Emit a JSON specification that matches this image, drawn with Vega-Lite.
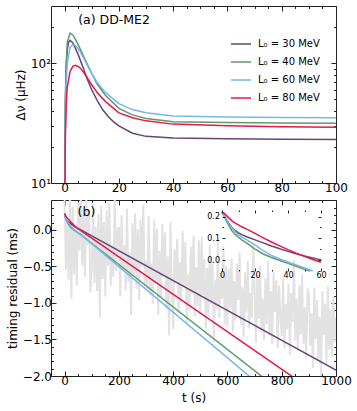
{
  "$schema": "https://vega.github.io/schema/vega-lite/v6.json",
  "padding": {"left": 5, "top": 5, "right": 5, "bottom": 5},
  "background": "white",
  "spacing": 17,
  "bounds": "flush",
  "config": {
    "view": {"stroke": "#222", "strokeWidth": 1},
    "font": "DejaVu Sans",
    "axis": {"labelFont": "DejaVu Sans", "labelFontSize": 12, "labelColor": "#000", "titleFont": "DejaVu Sans", "titleFontSize": 12, "titleFontWeight": "normal", "titleColor": "#000", "domain": false, "grid": false, "tickColor": "#222", "labelPadding": 4.5, "titlePadding": 3, "labelFlush": false, "labelOverlap": false, "labelBound": false, "zindex": 1},
    "legend": {"labelFont": "DejaVu Sans", "labelColor": "#000"}
  },
  "datasets": {
    "freq": [
      {"t":0,"dnu":3,"L":"L₀ = 30 MeV"},{"t":0.3,"dnu":50,"L":"L₀ = 30 MeV"},{"t":0.6,"dnu":95,"L":"L₀ = 30 MeV"},{"t":1,"dnu":130,"L":"L₀ = 30 MeV"},{"t":1.5,"dnu":150,"L":"L₀ = 30 MeV"},{"t":2,"dnu":155,"L":"L₀ = 30 MeV"},{"t":3,"dnu":148,"L":"L₀ = 30 MeV"},{"t":4,"dnu":133,"L":"L₀ = 30 MeV"},{"t":5,"dnu":118,"L":"L₀ = 30 MeV"},{"t":6,"dnu":103,"L":"L₀ = 30 MeV"},{"t":7,"dnu":90,"L":"L₀ = 30 MeV"},{"t":8,"dnu":77,"L":"L₀ = 30 MeV"},{"t":9,"dnu":68,"L":"L₀ = 30 MeV"},{"t":10,"dnu":60,"L":"L₀ = 30 MeV"},{"t":12,"dnu":49,"L":"L₀ = 30 MeV"},{"t":14,"dnu":41,"L":"L₀ = 30 MeV"},{"t":16,"dnu":36,"L":"L₀ = 30 MeV"},{"t":18,"dnu":32.5,"L":"L₀ = 30 MeV"},{"t":20,"dnu":30,"L":"L₀ = 30 MeV"},{"t":25,"dnu":26,"L":"L₀ = 30 MeV"},{"t":30,"dnu":24.5,"L":"L₀ = 30 MeV"},{"t":40,"dnu":23.7,"L":"L₀ = 30 MeV"},{"t":60,"dnu":23.4,"L":"L₀ = 30 MeV"},{"t":80,"dnu":23.2,"L":"L₀ = 30 MeV"},{"t":100,"dnu":23.1,"L":"L₀ = 30 MeV"},
      {"t":0,"dnu":3,"L":"L₀ = 40 MeV"},{"t":0.3,"dnu":45,"L":"L₀ = 40 MeV"},{"t":0.6,"dnu":100,"L":"L₀ = 40 MeV"},{"t":1,"dnu":150,"L":"L₀ = 40 MeV"},{"t":2,"dnu":178,"L":"L₀ = 40 MeV"},{"t":3,"dnu":172,"L":"L₀ = 40 MeV"},{"t":4,"dnu":158,"L":"L₀ = 40 MeV"},{"t":5,"dnu":143,"L":"L₀ = 40 MeV"},{"t":6,"dnu":128,"L":"L₀ = 40 MeV"},{"t":8,"dnu":102,"L":"L₀ = 40 MeV"},{"t":10,"dnu":82,"L":"L₀ = 40 MeV"},{"t":12,"dnu":67,"L":"L₀ = 40 MeV"},{"t":15,"dnu":54,"L":"L₀ = 40 MeV"},{"t":20,"dnu":42,"L":"L₀ = 40 MeV"},{"t":25,"dnu":37,"L":"L₀ = 40 MeV"},{"t":30,"dnu":34.5,"L":"L₀ = 40 MeV"},{"t":40,"dnu":32.5,"L":"L₀ = 40 MeV"},{"t":60,"dnu":32,"L":"L₀ = 40 MeV"},{"t":80,"dnu":31.7,"L":"L₀ = 40 MeV"},{"t":100,"dnu":31.5,"L":"L₀ = 40 MeV"},
      {"t":0,"dnu":3,"L":"L₀ = 60 MeV"},{"t":0.3,"dnu":30,"L":"L₀ = 60 MeV"},{"t":0.6,"dnu":65,"L":"L₀ = 60 MeV"},{"t":1,"dnu":100,"L":"L₀ = 60 MeV"},{"t":2,"dnu":135,"L":"L₀ = 60 MeV"},{"t":3,"dnu":143,"L":"L₀ = 60 MeV"},{"t":4,"dnu":140,"L":"L₀ = 60 MeV"},{"t":5,"dnu":132,"L":"L₀ = 60 MeV"},{"t":6,"dnu":122,"L":"L₀ = 60 MeV"},{"t":8,"dnu":100,"L":"L₀ = 60 MeV"},{"t":10,"dnu":82,"L":"L₀ = 60 MeV"},{"t":12,"dnu":69,"L":"L₀ = 60 MeV"},{"t":15,"dnu":57,"L":"L₀ = 60 MeV"},{"t":20,"dnu":46,"L":"L₀ = 60 MeV"},{"t":25,"dnu":41,"L":"L₀ = 60 MeV"},{"t":30,"dnu":38.5,"L":"L₀ = 60 MeV"},{"t":40,"dnu":36.3,"L":"L₀ = 60 MeV"},{"t":60,"dnu":35.5,"L":"L₀ = 60 MeV"},{"t":80,"dnu":35.2,"L":"L₀ = 60 MeV"},{"t":100,"dnu":35,"L":"L₀ = 60 MeV"},
      {"t":0,"dnu":3,"L":"L₀ = 80 MeV"},{"t":0.3,"dnu":25,"L":"L₀ = 80 MeV"},{"t":0.6,"dnu":45,"L":"L₀ = 80 MeV"},{"t":1,"dnu":63,"L":"L₀ = 80 MeV"},{"t":2,"dnu":85,"L":"L₀ = 80 MeV"},{"t":3,"dnu":94,"L":"L₀ = 80 MeV"},{"t":4,"dnu":96,"L":"L₀ = 80 MeV"},{"t":5,"dnu":94,"L":"L₀ = 80 MeV"},{"t":6,"dnu":90,"L":"L₀ = 80 MeV"},{"t":8,"dnu":78,"L":"L₀ = 80 MeV"},{"t":10,"dnu":66,"L":"L₀ = 80 MeV"},{"t":12,"dnu":57,"L":"L₀ = 80 MeV"},{"t":15,"dnu":48,"L":"L₀ = 80 MeV"},{"t":20,"dnu":38.5,"L":"L₀ = 80 MeV"},{"t":25,"dnu":35,"L":"L₀ = 80 MeV"},{"t":30,"dnu":33,"L":"L₀ = 80 MeV"},{"t":40,"dnu":31,"L":"L₀ = 80 MeV"},{"t":60,"dnu":30,"L":"L₀ = 80 MeV"},{"t":80,"dnu":29.5,"L":"L₀ = 80 MeV"},{"t":100,"dnu":29.2,"L":"L₀ = 80 MeV"}
    ],
    "resid": [
      {"t":0,"r":0.222,"L":"L₀ = 30 MeV"},{"t":2,"r":0.195,"L":"L₀ = 30 MeV"},{"t":4,"r":0.17,"L":"L₀ = 30 MeV"},{"t":6,"r":0.15,"L":"L₀ = 30 MeV"},{"t":8,"r":0.135,"L":"L₀ = 30 MeV"},{"t":10,"r":0.125,"L":"L₀ = 30 MeV"},{"t":12,"r":0.117,"L":"L₀ = 30 MeV"},{"t":15,"r":0.107,"L":"L₀ = 30 MeV"},{"t":20,"r":0.093,"L":"L₀ = 30 MeV"},{"t":25,"r":0.079,"L":"L₀ = 30 MeV"},{"t":30,"r":0.065,"L":"L₀ = 30 MeV"},{"t":35,"r":0.052,"L":"L₀ = 30 MeV"},{"t":40,"r":0.04,"L":"L₀ = 30 MeV"},{"t":45,"r":0.029,"L":"L₀ = 30 MeV"},{"t":50,"r":0.019,"L":"L₀ = 30 MeV"},{"t":55,"r":0.01,"L":"L₀ = 30 MeV"},{"t":60,"r":0.001,"L":"L₀ = 30 MeV"},{"t":1000,"r":-1.92,"L":"L₀ = 30 MeV"},
      {"t":0,"r":0.22,"L":"L₀ = 40 MeV"},{"t":2,"r":0.19,"L":"L₀ = 40 MeV"},{"t":4,"r":0.16,"L":"L₀ = 40 MeV"},{"t":6,"r":0.135,"L":"L₀ = 40 MeV"},{"t":8,"r":0.118,"L":"L₀ = 40 MeV"},{"t":10,"r":0.105,"L":"L₀ = 40 MeV"},{"t":12,"r":0.093,"L":"L₀ = 40 MeV"},{"t":15,"r":0.078,"L":"L₀ = 40 MeV"},{"t":20,"r":0.05,"L":"L₀ = 40 MeV"},{"t":25,"r":0.028,"L":"L₀ = 40 MeV"},{"t":30,"r":0.012,"L":"L₀ = 40 MeV"},{"t":35,"r":-0.002,"L":"L₀ = 40 MeV"},{"t":40,"r":-0.015,"L":"L₀ = 40 MeV"},{"t":45,"r":-0.028,"L":"L₀ = 40 MeV"},{"t":50,"r":-0.042,"L":"L₀ = 40 MeV"},{"t":53.3,"r":-0.05,"L":"L₀ = 40 MeV"},{"t":55,"r":-0.054,"L":"L₀ = 40 MeV"},{"t":60,"r":-0.066,"L":"L₀ = 40 MeV"},{"t":1000,"r":-2.8,"L":"L₀ = 40 MeV"},
      {"t":0,"r":0.22,"L":"L₀ = 60 MeV"},{"t":2,"r":0.195,"L":"L₀ = 60 MeV"},{"t":4,"r":0.17,"L":"L₀ = 60 MeV"},{"t":6,"r":0.148,"L":"L₀ = 60 MeV"},{"t":8,"r":0.13,"L":"L₀ = 60 MeV"},{"t":10,"r":0.117,"L":"L₀ = 60 MeV"},{"t":12,"r":0.106,"L":"L₀ = 60 MeV"},{"t":15,"r":0.093,"L":"L₀ = 60 MeV"},{"t":20,"r":0.07,"L":"L₀ = 60 MeV"},{"t":25,"r":0.043,"L":"L₀ = 60 MeV"},{"t":30,"r":0.021,"L":"L₀ = 60 MeV"},{"t":35,"r":0.005,"L":"L₀ = 60 MeV"},{"t":40,"r":-0.008,"L":"L₀ = 60 MeV"},{"t":45,"r":-0.022,"L":"L₀ = 60 MeV"},{"t":50,"r":-0.036,"L":"L₀ = 60 MeV"},{"t":55,"r":-0.05,"L":"L₀ = 60 MeV"},{"t":60,"r":-0.064,"L":"L₀ = 60 MeV"},{"t":1000,"r":-3.0,"L":"L₀ = 60 MeV"},
      {"t":0,"r":0.223,"L":"L₀ = 80 MeV"},{"t":2,"r":0.21,"L":"L₀ = 80 MeV"},{"t":4,"r":0.195,"L":"L₀ = 80 MeV"},{"t":6,"r":0.18,"L":"L₀ = 80 MeV"},{"t":8,"r":0.17,"L":"L₀ = 80 MeV"},{"t":10,"r":0.162,"L":"L₀ = 80 MeV"},{"t":12,"r":0.153,"L":"L₀ = 80 MeV"},{"t":15,"r":0.142,"L":"L₀ = 80 MeV"},{"t":20,"r":0.123,"L":"L₀ = 80 MeV"},{"t":25,"r":0.102,"L":"L₀ = 80 MeV"},{"t":30,"r":0.083,"L":"L₀ = 80 MeV"},{"t":35,"r":0.065,"L":"L₀ = 80 MeV"},{"t":40,"r":0.048,"L":"L₀ = 80 MeV"},{"t":45,"r":0.032,"L":"L₀ = 80 MeV"},{"t":50,"r":0.017,"L":"L₀ = 80 MeV"},{"t":55,"r":0.003,"L":"L₀ = 80 MeV"},{"t":60,"r":-0.01,"L":"L₀ = 80 MeV"},{"t":1000,"r":-2.42,"L":"L₀ = 80 MeV"}
    ],
    "noise": [
      {"t":0,"r":0.41},{"t":5,"r":-0.54},{"t":10,"r":0.14},{"t":15,"r":-0.68},{"t":20,"r":0.47},{"t":25,"r":-0.94},{"t":30,"r":0.32},{"t":35,"r":-0.61},{"t":40,"r":0.04},{"t":45,"r":-0.76},{"t":50,"r":0.38},{"t":55,"r":-0.28},{"t":60,"r":0.54},{"t":65,"r":-0.49},{"t":70,"r":0.21},{"t":75,"r":-0.64},{"t":80,"r":0.43},{"t":85,"r":-0.21},{"t":90,"r":0.29},{"t":95,"r":-0.86},
      {"t":100,"r":-0.54},{"t":105,"r":0.36},{"t":110,"r":-0.73},{"t":115,"r":0.04},{"t":120,"r":-0.84},{"t":125,"r":0.22},{"t":130,"r":-1.2},{"t":135,"r":0.33},{"t":140,"r":-0.67},{"t":145,"r":0.11},{"t":150,"r":-0.91},{"t":155,"r":0.27},{"t":160,"r":-0.49},{"t":165,"r":0.38},{"t":170,"r":-0.76},{"t":175,"r":-0.21},{"t":180,"r":-0.64},{"t":185,"r":0.44},{"t":190,"r":-0.57},{"t":195,"r":-0.02},
      {"t":200,"r":0.04},{"t":205,"r":-0.91},{"t":210,"r":0.2},{"t":215,"r":-0.56},{"t":220,"r":-0.21},{"t":225,"r":-0.83},{"t":230,"r":0.29},{"t":235,"r":-0.71},{"t":240,"r":-0.31},{"t":245,"r":-1.16},{"t":250,"r":0.09},{"t":255,"r":-0.63},{"t":260,"r":0.23},{"t":265,"r":-0.81},{"t":270,"r":0.01},{"t":275,"r":-0.96},{"t":280,"r":0.14},{"t":285,"r":-0.51},{"t":290,"r":0.34},{"t":295,"r":-0.77},
      {"t":300,"r":-0.42},{"t":305,"r":-0.82},{"t":310,"r":0.19},{"t":315,"r":-0.89},{"t":320,"r":-0.46},{"t":325,"r":-1.01},{"t":330,"r":0.13},{"t":335,"r":-0.74},{"t":340,"r":0.02},{"t":345,"r":-1.16},{"t":350,"r":-0.29},{"t":355,"r":-0.92},{"t":360,"r":0.08},{"t":365,"r":-0.64},{"t":370,"r":-0.03},{"t":375,"r":-1.09},{"t":380,"r":-0.36},{"t":385,"r":-1.45},{"t":390,"r":0.11},{"t":395,"r":-0.79},
      {"t":400,"r":-1.36},{"t":405,"r":-0.26},{"t":410,"r":-0.71},{"t":415,"r":-0.12},{"t":420,"r":-1.14},{"t":425,"r":-0.44},{"t":430,"r":-0.99},{"t":435,"r":-0.01},{"t":440,"r":-0.78},{"t":445,"r":-0.17},{"t":450,"r":-1.26},{"t":455,"r":-0.61},{"t":460,"r":-1.11},{"t":465,"r":-0.23},{"t":470,"r":-0.87},{"t":475,"r":-0.08},{"t":480,"r":-1.18},{"t":485,"r":-0.51},{"t":490,"r":-1.04},{"t":495,"r":-0.14},
      {"t":500,"r":-1.15},{"t":505,"r":-0.09},{"t":510,"r":-0.89},{"t":515,"r":-0.39},{"t":520,"r":-1.34},{"t":525,"r":-0.52},{"t":530,"r":-1.19},{"t":535,"r":-0.2},{"t":540,"r":-1.01},{"t":545,"r":-0.44},{"t":550,"r":-1.54},{"t":555,"r":-0.69},{"t":560,"r":-1.09},{"t":565,"r":-0.14},{"t":570,"r":-1.21},{"t":575,"r":-0.59},{"t":580,"r":-0.94},{"t":585,"r":-0.23},{"t":590,"r":-1.29},{"t":595,"r":-0.49},
      {"t":600,"r":-1.33},{"t":605,"r":-0.53},{"t":610,"r":-1.06},{"t":615,"r":-0.39},{"t":620,"r":-1.39},{"t":625,"r":-0.7},{"t":630,"r":-1.24},{"t":635,"r":-0.46},{"t":640,"r":-0.96},{"t":645,"r":-0.31},{"t":650,"r":-1.3},{"t":655,"r":-0.79},{"t":660,"r":-1.46},{"t":665,"r":-0.58},{"t":670,"r":-1.13},{"t":675,"r":-0.43},{"t":680,"r":-1.35},{"t":685,"r":-0.86},{"t":690,"r":-1.21},{"t":695,"r":-0.21},
      {"t":700,"r":-0.79},{"t":705,"r":-1.54},{"t":710,"r":-0.6},{"t":715,"r":-1.22},{"t":720,"r":-0.49},{"t":725,"r":-1.4},{"t":730,"r":-0.94},{"t":735,"r":-1.51},{"t":740,"r":-0.66},{"t":745,"r":-1.29},{"t":750,"r":-0.42},{"t":755,"r":-1.45},{"t":760,"r":-0.84},{"t":765,"r":-1.56},{"t":770,"r":-0.57},{"t":775,"r":-1.12},{"t":780,"r":-0.69},{"t":785,"r":-1.62},{"t":790,"r":-0.76},{"t":795,"r":-1.16},
      {"t":800,"r":-1.46},{"t":805,"r":-0.66},{"t":810,"r":-1.62},{"t":815,"r":-1.01},{"t":820,"r":-1.36},{"t":825,"r":-0.74},{"t":830,"r":-1.71},{"t":835,"r":-0.86},{"t":840,"r":-1.26},{"t":845,"r":-0.41},{"t":850,"r":-1.51},{"t":855,"r":-0.94},{"t":860,"r":-1.65},{"t":865,"r":-0.76},{"t":870,"r":-1.43},{"t":875,"r":-0.61},{"t":880,"r":-1.56},{"t":885,"r":-1.06},{"t":890,"r":-1.76},{"t":895,"r":-0.8},
      {"t":900,"r":-0.89},{"t":905,"r":-1.59},{"t":910,"r":-1.14},{"t":915,"r":-1.89},{"t":920,"r":-0.79},{"t":925,"r":-1.49},{"t":930,"r":-0.96},{"t":935,"r":-1.79},{"t":940,"r":-1.19},{"t":945,"r":-2.01},{"t":950,"r":-0.84},{"t":955,"r":-1.44},{"t":960,"r":-1.01},{"t":965,"r":-1.84},{"t":970,"r":-0.77},{"t":975,"r":-1.64},{"t":980,"r":-1.09},{"t":985,"r":-1.74},{"t":990,"r":-0.91},{"t":995,"r":-1.54},{"t":1000,"r":-1.2}
    ]
  },
  "resolve": {"scale": {"color": "independent"}},
  "vconcat": [
    {
      "width": 285,
      "height": 177,
      "resolve": {"axis": {"x": "independent", "y": "independent"}},
      "layer": [
        {
          "data": {"name": "freq"},
          "mark": {"type": "line", "clip": true, "strokeWidth": 1.5},
          "encoding": {
            "x": {"field": "t", "type": "quantitative", "scale": {"domain": [-5, 100], "nice": false, "zero": false},
                  "axis": {"orient": "bottom", "title": null, "values": [0,5,10,15,20,25,30,35,40,45,50,55,60,65,70,75,80,85,90,95,100],
                           "tickSize": {"condition": {"test": "datum.value % 20 === 0", "value": -5}, "value": -2.5},
                           "labelExpr": "datum.value % 20 === 0 ? datum.label : ''"}},
            "y": {"field": "dnu", "type": "quantitative", "scale": {"type": "log", "domain": [10, 300], "nice": false},
                  "axis": {"orient": "left", "title": "Δν  (μHz)", "values": [10,20,30,40,50,60,70,80,90,100,200], "labelPadding": 5.5,
                           "tickSize": {"condition": {"test": "datum.value == 10 || datum.value == 100", "value": -5}, "value": -2.5},
                           "labelExpr": "datum.value == 10 ? '10¹' : (datum.value == 100 ? '10²' : '')"}},
            "color": {"field": "L", "type": "nominal",
                      "scale": {"domain": ["L₀ = 30 MeV", "L₀ = 40 MeV", "L₀ = 60 MeV", "L₀ = 80 MeV"], "range": ["#634673", "#5f9a68", "#76b7ec", "#e8174b"]},
                      "legend": {"orient": "none", "legendX": 179, "legendY": 27, "title": null, "symbolType": "stroke", "symbolSize": 400, "symbolStrokeWidth": 1.5, "labelFontSize": 10, "rowPadding": 2, "labelOffset": 6, "padding": 0}}
          }
        },
        {
          "mark": {"type": "rule", "color": "#c4c4c4", "strokeWidth": 2.5},
          "encoding": {"y": {"datum": 16, "type": "quantitative", "axis": null}}
        },
        {
          "data": {"values": [{"label": "(a) DD-ME2", "t": 5, "v": 230}]},
          "mark": {"type": "text", "align": "left", "baseline": "middle", "fontSize": 12.5, "font": "DejaVu Sans", "fill": "#000"},
          "encoding": {
            "x": {"field": "t", "type": "quantitative",
                  "axis": {"orient": "top", "title": null, "labels": false, "values": [0,5,10,15,20,25,30,35,40,45,50,55,60,65,70,75,80,85,90,95,100],
                           "tickSize": {"condition": {"test": "datum.value % 20 === 0", "value": -5}, "value": -2.5}}},
            "y": {"field": "v", "type": "quantitative",
                  "axis": {"orient": "right", "title": null, "labels": false, "values": [10,20,30,40,50,60,70,80,90,100,200],
                           "tickSize": {"condition": {"test": "datum.value == 10 || datum.value == 100", "value": -5}, "value": -2.5}}},
            "text": {"field": "label"}
          }
        }
      ]
    },
    {
      "width": 285,
      "height": 176,
      "resolve": {"scale": {"x": "independent", "y": "independent"}},
      "layer": [
        {
          "data": {"name": "noise"},
          "mark": {"type": "line", "clip": true, "strokeWidth": 2, "color": "#e2e2e2"},
          "encoding": {
            "x": {"field": "t", "type": "quantitative", "scale": {"domain": [-50, 1000], "nice": false, "zero": false},
                  "axis": {"orient": "bottom", "title": "t (s)", "format": "d", "values": [0,50,100,150,200,250,300,350,400,450,500,550,600,650,700,750,800,850,900,950,1000],
                           "tickSize": {"condition": {"test": "datum.value % 200 === 0", "value": -5}, "value": -2.5},
                           "labelExpr": "datum.value % 200 === 0 ? datum.label : ''"}},
            "y": {"field": "r", "type": "quantitative", "scale": {"domain": [-2, 0.41], "nice": false, "zero": false},
                  "axis": {"orient": "left", "title": "timing residual (ms)", "format": ".1f", "values": [-2,-1.9,-1.8,-1.7,-1.6,-1.5,-1.4,-1.3,-1.2,-1.1,-1,-0.9,-0.8,-0.7,-0.6,-0.5,-0.4,-0.3,-0.2,-0.1,0,0.1,0.2,0.3],
                           "tickSize": {"condition": {"test": "abs(datum.value*2 - round(datum.value*2)) < 0.001", "value": -5}, "value": -2.5},
                           "labelExpr": "abs(datum.value*2 - round(datum.value*2)) < 0.001 ? datum.label : ''"}}
          }
        },
        {
          "data": {"name": "resid"},
          "mark": {"type": "line", "clip": true, "strokeWidth": 1.5},
          "encoding": {
            "x": {"field": "t", "type": "quantitative", "scale": {"domain": [-50, 1000], "nice": false, "zero": false},
                  "axis": {"orient": "top", "title": null, "labels": false, "values": [0,50,100,150,200,250,300,350,400,450,500,550,600,650,700,750,800,850,900,950,1000],
                           "tickSize": {"condition": {"test": "datum.value % 200 === 0", "value": -5}, "value": -2.5}}},
            "y": {"field": "r", "type": "quantitative", "scale": {"domain": [-2, 0.41], "nice": false, "zero": false},
                  "axis": {"orient": "right", "title": null, "labels": false, "values": [-2,-1.9,-1.8,-1.7,-1.6,-1.5,-1.4,-1.3,-1.2,-1.1,-1,-0.9,-0.8,-0.7,-0.6,-0.5,-0.4,-0.3,-0.2,-0.1,0,0.1,0.2,0.3],
                           "tickSize": {"condition": {"test": "abs(datum.value*2 - round(datum.value*2)) < 0.001", "value": -5}, "value": -2.5}}},
            "color": {"field": "L", "type": "nominal",
                      "scale": {"domain": ["L₀ = 30 MeV", "L₀ = 40 MeV", "L₀ = 60 MeV", "L₀ = 80 MeV"], "range": ["#634673", "#5f9a68", "#76b7ec", "#e8174b"]},
                      "legend": null}
          }
        },
        {
          "mark": {"type": "rect", "fill": "white", "stroke": "#222", "strokeWidth": 0.8},
          "encoding": {
            "x": {"datum": 0, "type": "quantitative", "scale": {"domain": [0, 60], "range": [171, 270], "nice": false, "zero": false},
                  "axis": {"orient": "bottom", "offset": -105, "title": null, "values": [0,10,20,30,40,50,60], "labelFontSize": 8, "labelPadding": 3.5, "zindex": 2,
                           "tickSize": {"condition": {"test": "datum.value % 20 === 0", "value": -3}, "value": -1.5},
                           "labelExpr": "datum.value % 20 === 0 ? datum.label : ''"}},
            "x2": {"datum": 60},
            "y": {"datum": -0.05, "type": "quantitative", "scale": {"domain": [-0.05, 0.23], "range": [71, 10], "nice": false, "zero": false},
                  "axis": {"orient": "left", "offset": -171, "title": null, "format": ".1f", "values": [0, 0.05, 0.1, 0.15, 0.2], "labelFontSize": 8, "labelPadding": 5.5, "zindex": 2,
                           "tickSize": {"condition": {"test": "abs(datum.value*10 - round(datum.value*10)) < 0.001", "value": -3}, "value": -1.5},
                           "labelExpr": "abs(datum.value*10 - round(datum.value*10)) < 0.001 ? datum.label : ''"}},
            "y2": {"datum": 0.23}
          }
        },
        {
          "data": {"name": "resid"},
          "transform": [{"filter": "datum.t <= 60 && datum.r >= -0.0501"}],
          "mark": {"type": "line", "strokeWidth": 1.5},
          "encoding": {
            "x": {"field": "t", "type": "quantitative", "scale": {"domain": [0, 60], "range": [171, 270], "nice": false, "zero": false},
                  "axis": {"orient": "top", "offset": -10, "title": null, "labels": false, "values": [0,10,20,30,40,50,60], "zindex": 2,
                           "tickSize": {"condition": {"test": "datum.value % 20 === 0", "value": -3}, "value": -1.5}}},
            "y": {"field": "r", "type": "quantitative", "scale": {"domain": [-0.05, 0.23], "range": [71, 10], "nice": false, "zero": false},
                  "axis": {"orient": "right", "offset": -15, "title": null, "labels": false, "values": [0, 0.05, 0.1, 0.15, 0.2], "zindex": 2,
                           "tickSize": {"condition": {"test": "abs(datum.value*10 - round(datum.value*10)) < 0.001", "value": -3}, "value": -1.5}}},
            "color": {"field": "L", "type": "nominal",
                      "scale": {"domain": ["L₀ = 30 MeV", "L₀ = 40 MeV", "L₀ = 60 MeV", "L₀ = 80 MeV"], "range": ["#634673", "#5f9a68", "#76b7ec", "#e8174b"]},
                      "legend": null}
          }
        },
        {
          "data": {"values": [{"label": "(b)", "t": 48, "v": 0.245}]},
          "mark": {"type": "text", "align": "left", "baseline": "middle", "fontSize": 12.5, "font": "DejaVu Sans", "fill": "#000"},
          "encoding": {
            "x": {"field": "t", "type": "quantitative", "scale": {"domain": [-50, 1000], "nice": false, "zero": false}, "axis": null},
            "y": {"field": "v", "type": "quantitative", "scale": {"domain": [-2, 0.41], "nice": false, "zero": false}, "axis": null},
            "text": {"field": "label"}
          }
        }
      ]
    }
  ]
}
